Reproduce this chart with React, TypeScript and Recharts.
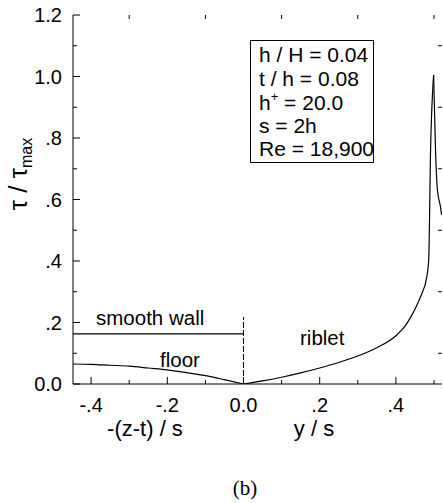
import React from 'react';
import { ComposedChart, Line, XAxis, YAxis, ReferenceLine } from 'recharts';

const X_MIN = -0.4475;
const X_MAX = 0.521;
const Y_MIN = 0;
const Y_MAX = 1.2;

const xMajorTicks = [-0.4, -0.2, 0, 0.2, 0.4];
const xMajorLabels = ['-.4', '-.2', '0.0', '.2', '.4'];
const xMinorTicks = [-0.3, -0.1, 0.1, 0.3, 0.5];
const yMajorTicks = [0, 0.2, 0.4, 0.6, 0.8, 1.0, 1.2];
const yMajorLabels = ['0.0', '.2', '.4', '.6', '.8', '1.0', '1.2'];
const yMinorTicks = [0.1, 0.3, 0.5, 0.7, 0.9, 1.1];

const smoothWall = [
  { x: -0.4475, y: 0.163 },
  { x: 0, y: 0.163 },
];
const divider = [
  { x: 0, y: 0 },
  { x: 0, y: 0.218 },
];
const floor = [
  { x: -0.4475, y: 0.065 },
  { x: -0.4, y: 0.064 },
  { x: -0.35, y: 0.061 },
  { x: -0.3, y: 0.058 },
  { x: -0.25, y: 0.052 },
  { x: -0.2, y: 0.046 },
  { x: -0.15, y: 0.037 },
  { x: -0.1, y: 0.027 },
  { x: -0.05, y: 0.014 },
  { x: 0, y: 0 },
];
const ribletRise = [
  { x: 0, y: 0 },
  { x: 0.05, y: 0.01 },
  { x: 0.1, y: 0.022 },
  { x: 0.15, y: 0.036 },
  { x: 0.2, y: 0.052 },
  { x: 0.25, y: 0.07 },
  { x: 0.3, y: 0.091 },
  { x: 0.35, y: 0.118 },
  { x: 0.4, y: 0.157 },
  { x: 0.425, y: 0.19 },
  { x: 0.44, y: 0.22 },
  { x: 0.45, y: 0.243 },
  { x: 0.46, y: 0.27 },
  { x: 0.47, y: 0.3 },
  { x: 0.478, y: 0.33 },
  { x: 0.486, y: 0.4 },
  { x: 0.491, y: 0.76 },
  { x: 0.499, y: 1.005 },
];
const ribletFall = [
  { x: 0.499, y: 1.005 },
  { x: 0.504, y: 0.76 },
  { x: 0.509, y: 0.631 },
  { x: 0.517, y: 0.576 },
  { x: 0.52, y: 0.55 },
];

const FONT = '"Liberation Sans", Arial, Helvetica, sans-serif';
const INK = '#000';

const fmtX = (v: number) => {
  const i = xMajorTicks.findIndex((t) => Math.abs(t - v) < 1e-9);
  return i >= 0 ? xMajorLabels[i] : '';
};
const fmtY = (v: number) => {
  const i = yMajorTicks.findIndex((t) => Math.abs(t - v) < 1e-9);
  return i >= 0 ? yMajorLabels[i] : '';
};

const tickStyle = { fill: INK, fontSize: 20, fontFamily: FONT };
const axisLine = { stroke: INK, strokeWidth: 1 };
const XMINOR = 0.013;
const YMINOR = 0.0105;

export default function App() {
  return (
    <div style={{ position: 'absolute', left: 0, top: 0, width: 443, height: 503, background: '#fff' }}>
      <ComposedChart
        width={443}
        height={503}
        margin={{ top: 15, right: 1, bottom: 79, left: 0 }}
      >
        <XAxis
          dataKey="x"
          type="number"
          domain={[X_MIN, X_MAX]}
          allowDataOverflow
          ticks={xMajorTicks}
          interval={0}
          tickFormatter={fmtX}
          tickSize={-7}
          tickMargin={21}
          height={40}
          axisLine={axisLine}
          tickLine={axisLine}
          tick={tickStyle}
        />
        <XAxis
          xAxisId="top"
          orientation="top"
          dataKey="x"
          type="number"
          domain={[X_MIN, X_MAX]}
          allowDataOverflow
          ticks={xMajorTicks}
          interval={0}
          tickSize={-7}
          height={0}
          axisLine={axisLine}
          tickLine={axisLine}
          tick={false}
        />
        <YAxis
          type="number"
          domain={[Y_MIN, Y_MAX]}
          allowDataOverflow
          ticks={yMajorTicks}
          interval={0}
          tickFormatter={fmtY}
          tickSize={-7}
          tickMargin={18}
          width={73}
          axisLine={axisLine}
          tickLine={axisLine}
          tick={tickStyle}
        />
        <YAxis
          yAxisId="right"
          orientation="right"
          type="number"
          domain={[Y_MIN, Y_MAX]}
          allowDataOverflow
          ticks={yMajorTicks}
          interval={0}
          tickSize={-7}
          width={0}
          axisLine={axisLine}
          tickLine={axisLine}
          tick={false}
        />
        {xMinorTicks.map((v) => (
          <ReferenceLine key={'xb' + v} segment={[{ x: v, y: Y_MIN }, { x: v, y: Y_MIN + XMINOR }]} stroke={INK} />
        ))}
        {xMinorTicks.map((v) => (
          <ReferenceLine key={'xt' + v} segment={[{ x: v, y: Y_MAX }, { x: v, y: Y_MAX - XMINOR }]} stroke={INK} />
        ))}
        {yMinorTicks.map((v) => (
          <ReferenceLine key={'yl' + v} segment={[{ x: X_MIN, y: v }, { x: X_MIN + YMINOR, y: v }]} stroke={INK} />
        ))}
        {yMinorTicks.map((v) => (
          <ReferenceLine key={'yr' + v} segment={[{ x: X_MAX, y: v }, { x: X_MAX - YMINOR, y: v }]} stroke={INK} />
        ))}
        <Line data={smoothWall} dataKey="y" type="linear" stroke={INK} strokeWidth={1.2} dot={false} isAnimationActive={false} />
        <Line data={divider} dataKey="y" type="linear" stroke={INK} strokeWidth={1} strokeDasharray="6 2" dot={false} isAnimationActive={false} />
        <Line data={floor} dataKey="y" type="monotone" stroke={INK} strokeWidth={1.2} dot={false} isAnimationActive={false} />
        <Line data={ribletRise} dataKey="y" type="monotone" stroke={INK} strokeWidth={1.2} dot={false} isAnimationActive={false} />
        <Line data={ribletFall} dataKey="y" type="monotone" stroke={INK} strokeWidth={1.2} dot={false} isAnimationActive={false} />
      </ComposedChart>
      <svg
        width={443}
        height={503}
        style={{ position: 'absolute', left: 0, top: 0, pointerEvents: 'none' }}
      >
        <g fontFamily={FONT} fill={INK}>
          <text transform="rotate(-90)" x={-174} y={27} textAnchor="middle" fontSize={26}>
            τ / τ<tspan fontSize={16} dy={5}>max</tspan>
          </text>
          <text x={145} y={436} textAnchor="middle" fontSize={22}>-(z-t) / s</text>
          <text x={314} y={436} textAnchor="middle" fontSize={22}>y / s</text>
          <text x={96} y={325} fontSize={20.5}>smooth wall</text>
          <text x={160} y={367} fontSize={20.5}>floor</text>
          <text x={300} y={345} fontSize={20.5}>riblet</text>
          <rect x={250.5} y={40.5} width={123} height={122} fill="none" stroke={INK} strokeWidth={1} />
          <text x={259} y={62} fontSize={21}>h / H = 0.04</text>
          <text x={259} y={86} fontSize={21}>t / h = 0.08</text>
          <text x={259} y={110} fontSize={21}>
            h<tspan fontSize={13} dy={-9}>+</tspan><tspan dy={9}> = 20.0</tspan>
          </text>
          <text x={259} y={133} fontSize={21}>s = 2h</text>
          <text x={259} y={156} fontSize={21}>Re = 18,900</text>
        </g>
        <text x={245} y={495} textAnchor="middle" fontSize={21} fontFamily='"Liberation Serif", "Times New Roman", serif' fill={INK}>
          (b)
        </text>
      </svg>
    </div>
  );
}
